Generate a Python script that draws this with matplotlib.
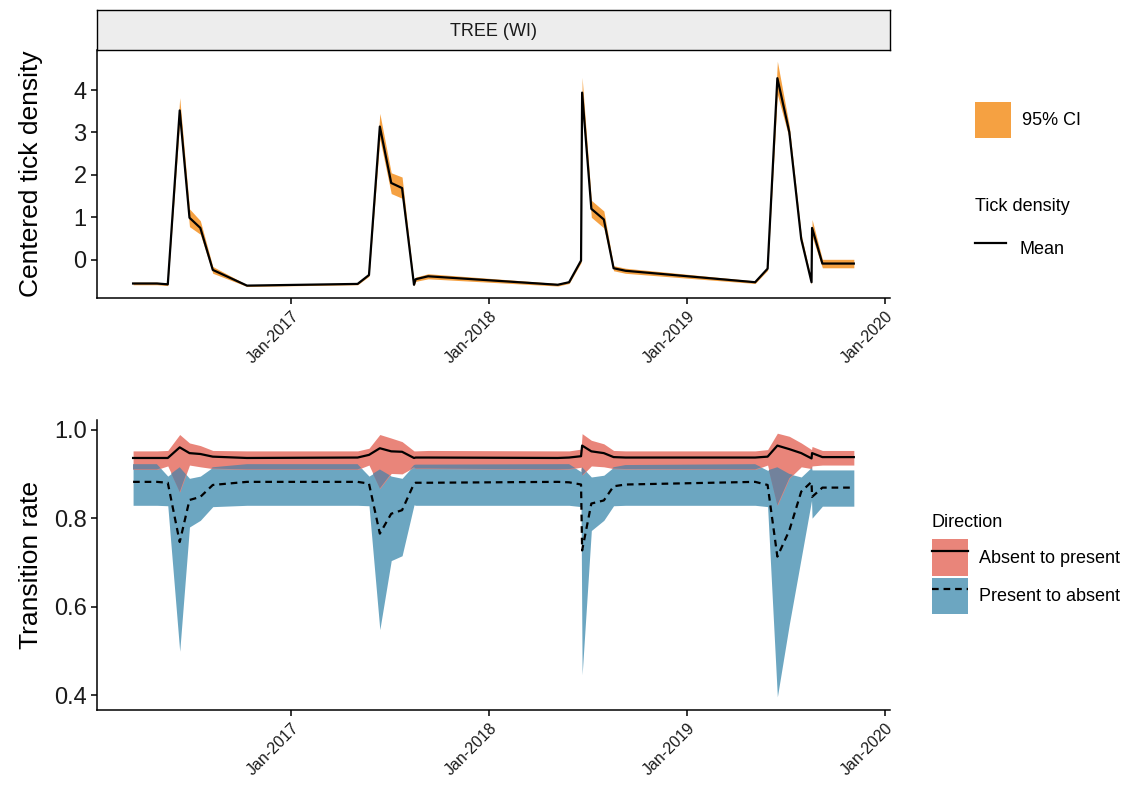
import numpy as np
import pandas as pd
import matplotlib
matplotlib.use("Agg")
import matplotlib.pyplot as plt
import matplotlib.dates as mdates
import matplotlib.ticker as mticker
from matplotlib.patches import Patch
from matplotlib.lines import Line2D
from matplotlib.legend_handler import HandlerTuple

plt.rcParams['font.family'] = ['Liberation Sans', 'DejaVu Sans']

# sampling dates
dates = pd.to_datetime([
    "2016-03-15", "2016-04-28", "2016-05-18", "2016-06-09", "2016-06-27",
    "2016-07-17", "2016-08-09", "2016-10-11", "2017-05-03", "2017-05-24",
    "2017-06-13", "2017-07-04", "2017-07-24", "2017-08-15", "2017-08-18",
    "2017-09-10", "2018-05-07", "2018-05-28", "2018-06-19", "2018-06-21",
    "2018-07-08", "2018-07-31", "2018-08-18", "2018-09-09", "2019-05-06",
    "2019-05-29", "2019-06-16", "2019-07-08", "2019-07-30", "2019-08-18",
    "2019-08-19", "2019-09-07", "2019-11-04",
])

# centered tick density: mean and 95% CI
tick_mean = [-0.56, -0.56, -0.58, 3.52, 0.99, 0.75, -0.24, -0.61, -0.57, -0.36,
             3.14, 1.81, 1.69, -0.59, -0.46, -0.39, -0.59, -0.53, -0.02, 3.94,
             1.20, 0.95, -0.20, -0.26, -0.53, -0.21, 4.28, 3.01, 0.49, -0.53,
             0.75, -0.09, -0.09]
tick_lo = [-0.59, -0.59, -0.61, 3.25, 0.78, 0.60, -0.32, -0.63, -0.59, -0.39,
           2.85, 1.56, 1.45, -0.62, -0.51, -0.45, -0.62, -0.56, -0.07, 3.60,
           1.00, 0.75, -0.26, -0.32, -0.56, -0.25, 3.90, 2.86, 0.39, -0.58,
           0.55, -0.19, -0.19]
tick_hi = [-0.53, -0.53, -0.55, 3.82, 1.20, 0.92, -0.16, -0.59, -0.55, -0.33,
           3.45, 2.05, 1.95, -0.56, -0.41, -0.33, -0.56, -0.50, 0.03, 4.30,
           1.40, 1.15, -0.14, -0.20, -0.50, -0.17, 4.68, 3.16, 0.59, -0.48,
           0.95, 0.01, 0.01]

# transition rate, absent -> present
ap_mean = [0.936, 0.936, 0.936, 0.960, 0.947, 0.945, 0.939, 0.936, 0.937, 0.943,
           0.958, 0.951, 0.950, 0.936, 0.937, 0.937, 0.936, 0.937, 0.940, 0.964,
           0.951, 0.947, 0.938, 0.937, 0.937, 0.939, 0.964, 0.956, 0.947, 0.935,
           0.947, 0.938, 0.938]
ap_lo = [0.910, 0.910, 0.918, 0.859, 0.920, 0.916, 0.912, 0.910, 0.910, 0.920,
         0.867, 0.901, 0.900, 0.915, 0.912, 0.912, 0.910, 0.911, 0.915, 0.897,
         0.918, 0.916, 0.912, 0.911, 0.910, 0.920, 0.829, 0.890, 0.916, 0.912,
         0.918, 0.920, 0.920]
ap_hi = [0.952, 0.952, 0.953, 0.989, 0.970, 0.964, 0.953, 0.952, 0.952, 0.958,
         0.989, 0.981, 0.973, 0.952, 0.952, 0.953, 0.952, 0.952, 0.956, 0.991,
         0.976, 0.968, 0.953, 0.952, 0.952, 0.955, 0.992, 0.985, 0.970, 0.955,
         0.962, 0.953, 0.953]

# transition rate, present -> absent
pa_mean = [0.882, 0.882, 0.880, 0.746, 0.841, 0.848, 0.875, 0.882, 0.882, 0.878,
           0.765, 0.810, 0.818, 0.878, 0.880, 0.880, 0.882, 0.881, 0.876, 0.727,
           0.833, 0.840, 0.872, 0.876, 0.882, 0.875, 0.713, 0.772, 0.860, 0.882,
           0.848, 0.869, 0.869]
pa_lo = [0.829, 0.829, 0.828, 0.499, 0.780, 0.795, 0.826, 0.829, 0.829, 0.828,
         0.548, 0.704, 0.715, 0.830, 0.829, 0.829, 0.829, 0.829, 0.826, 0.446,
         0.772, 0.795, 0.828, 0.829, 0.829, 0.826, 0.396, 0.560, 0.710, 0.840,
         0.800, 0.827, 0.827]
pa_hi = [0.922, 0.922, 0.895, 0.915, 0.890, 0.895, 0.915, 0.922, 0.922, 0.895,
         0.910, 0.895, 0.890, 0.920, 0.921, 0.921, 0.922, 0.922, 0.905, 0.915,
         0.893, 0.897, 0.915, 0.920, 0.922, 0.908, 0.915, 0.900, 0.893, 0.915,
         0.909, 0.909, 0.909]

ORANGE = "#F5A142"
RED = "#E9857A"
BLUE = "#6CA6C1"
OVERLAP = "#72829C"
DASH = (0, (3, 2.2))

fig = plt.figure(figsize=(11.31, 7.87), dpi=100)
left, width = 0.0858, 0.701
ax1 = fig.add_axes([left, 0.6217, width, 0.3148])
strip = fig.add_axes([left, 0.9365, width, 0.0508])
ax2 = fig.add_axes([left, 0.0978, width, 0.3685])

# strip label
strip.set_facecolor("#EDEDED")
strip.set_xticks([])
strip.set_yticks([])
for s in strip.spines.values():
    s.set_linewidth(1.0)
strip.text(0.5, 0.47, "TREE (WI)", ha="center", va="center", fontsize=13, color="#1a1a1a")

# top panel
ax1.fill_between(dates, tick_lo, tick_hi, color=ORANGE, lw=0)
ax1.plot(dates, tick_mean, color="black", lw=1.6)
ax1.set_yticks([0, 1, 2, 3, 4])
ax1.set_ylabel("Centered tick density", fontsize=19)

# bottom panel
lo_a, hi_a = np.array(ap_lo), np.array(ap_hi)
lo_p, hi_p = np.array(pa_lo), np.array(pa_hi)
ax2.fill_between(dates, lo_p, hi_p, color=BLUE, lw=0)
ax2.fill_between(dates, lo_a, hi_a, color=RED, lw=0)
ax2.fill_between(dates, np.maximum(lo_a, lo_p), np.minimum(hi_a, hi_p),
                 where=np.minimum(hi_a, hi_p) > np.maximum(lo_a, lo_p),
                 interpolate=True, color=OVERLAP, lw=0)
ax2.plot(dates, ap_mean, color="black", lw=1.6)
ax2.plot(dates, pa_mean, color="black", lw=1.6, ls=DASH)
ax2.set_yticks([0.4, 0.6, 0.8, 1.0])
ax2.yaxis.set_major_formatter(mticker.FormatStrFormatter("%.1f"))
ax2.set_ylabel("Transition rate", fontsize=19)

for ax in (ax1, ax2):
    ax.margins(x=0.05, y=0.05)
    ax.yaxis.set_label_coords(-0.068, 0.5)
    ax.xaxis.set_major_locator(mdates.YearLocator(base=1, month=1, day=1))
    ax.xaxis.set_major_formatter(mdates.DateFormatter("%b-%Y"))
    for side in ("top", "right"):
        ax.spines[side].set_visible(False)
    for side in ("left", "bottom"):
        ax.spines[side].set_linewidth(1.1)
    ax.tick_params(axis="both", direction="out", length=4, width=1.1, color="black")
    ax.tick_params(axis="y", labelsize=17, labelcolor="#1a1a1a")
    ax.tick_params(axis="x", labelsize=11.5, labelcolor="#1a1a1a")
    for lab in ax.get_xticklabels():
        lab.set_rotation(45)
        lab.set_ha("right")
        lab.set_rotation_mode("anchor")

# legends, top panel
leg_ci = ax1.legend([Patch(facecolor=ORANGE, edgecolor="none")], ["95% CI"],
                    loc="upper left", bbox_to_anchor=(0.854, 0.882), bbox_transform=fig.transFigure,
                    frameon=False, fontsize=13, handlelength=2.0, handleheight=2.7,
                    handletextpad=0.6, borderpad=0)
ax1.add_artist(leg_ci)
leg_td = ax1.legend([Line2D([], [], color="black", lw=1.6)], ["Mean"], title="Tick density",
                    loc="upper left", bbox_to_anchor=(0.854, 0.760), bbox_transform=fig.transFigure,
                    frameon=False, fontsize=13, title_fontsize=13, alignment="left",
                    handlelength=1.75, handleheight=2.5, handletextpad=0.7, borderpad=0)
leg_td._legend_box.sep = 12.3  # extra room between title and key

# legend, bottom panel
h_ap = (Patch(facecolor=RED, edgecolor="none"), Line2D([], [], color="black", lw=1.6))
h_pa = (Patch(facecolor=BLUE, edgecolor="none"), Line2D([], [], color="black", lw=1.6, ls=DASH))
leg_dir = ax2.legend([h_ap, h_pa], ["Absent to present", "Present to absent"], title="Direction",
                     handler_map={tuple: HandlerTuple(ndivide=1, pad=0)},
                     loc="upper left", bbox_to_anchor=(0.816, 0.358), bbox_transform=fig.transFigure,
                     frameon=False, fontsize=13, title_fontsize=13, alignment="left",
                     handlelength=2.0, handleheight=2.7, handletextpad=0.6, labelspacing=0.12, borderpad=0)
leg_dir._legend_box.sep = 5.9

fig.savefig("out.png", dpi=100)
